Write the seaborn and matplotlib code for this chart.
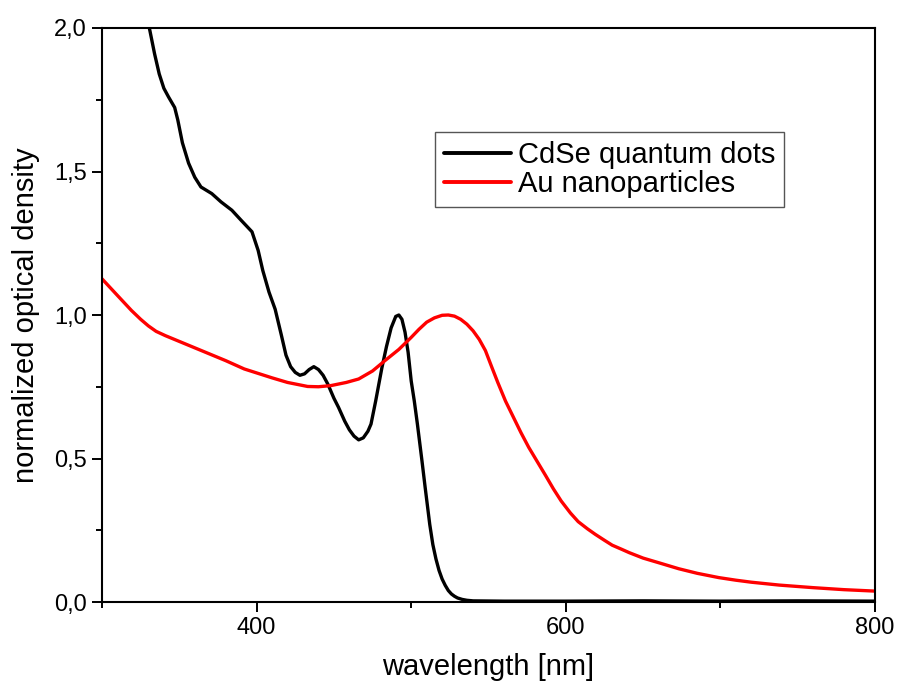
import numpy as np
import pandas as pd
import matplotlib
matplotlib.use("Agg")
import matplotlib.pyplot as plt
from matplotlib.ticker import MultipleLocator, FuncFormatter
import seaborn as sns

# CdSe quantum dots absorption
cdse_wl = [320, 325, 331, 334, 337, 340, 343, 347, 349, 352, 356, 360, 364, 371, 377, 384, 390,
           397, 401, 404, 408, 412, 416, 419, 422, 425, 428, 431, 434, 437, 440, 443, 446,
           450, 453, 457, 460, 463, 466, 469, 472, 474, 477, 481, 484, 487, 490, 492, 494,
           496, 498, 500, 502, 504, 507, 509, 512, 514, 516, 518, 520, 522, 524, 526, 528,
           530, 533, 536, 540, 560, 600, 650, 700, 750, 800]
cdse_od = [2.30, 2.14, 1.99, 1.91, 1.84, 1.79, 1.76, 1.723, 1.68, 1.60, 1.529, 1.48, 1.446, 1.423, 1.394, 1.365, 1.33,
           1.29, 1.225, 1.155, 1.08, 1.02, 0.93, 0.86, 0.82, 0.80, 0.79, 0.795, 0.81, 0.82, 0.81, 0.79, 0.76,
           0.71, 0.678, 0.63, 0.60, 0.578, 0.565, 0.572, 0.595, 0.62, 0.70, 0.815, 0.89, 0.955, 0.995, 1.0, 0.985,
           0.94, 0.87, 0.77, 0.70, 0.62, 0.49, 0.40, 0.27, 0.20, 0.15, 0.11, 0.08, 0.058, 0.04, 0.028, 0.02,
           0.014, 0.009, 0.006, 0.004, 0.003, 0.003, 0.004, 0.003, 0.004, 0.003]

# Au nanoparticles plasmon band
au_wl = [300, 310, 319, 325, 330, 335, 341, 354, 367, 380, 392, 410, 420, 433, 440, 448, 458,
         466, 475, 483, 492, 500, 505, 510, 515, 520, 524, 528, 532, 536, 540, 544,
         548, 552, 556, 561, 566, 571, 576, 582, 587, 592, 597, 603, 608, 614, 619,
         625, 630, 636, 641, 650, 660, 673, 685, 699, 710, 720, 738, 760, 780, 800]
au_od = [1.126, 1.068, 1.016, 0.985, 0.962, 0.943, 0.928, 0.899, 0.870, 0.841, 0.812, 0.781, 0.765, 0.751, 0.75, 0.754, 0.765,
         0.777, 0.805, 0.841, 0.88, 0.922, 0.95, 0.975, 0.99, 0.999, 1.0, 0.996, 0.985, 0.968, 0.945, 0.915,
         0.876, 0.82, 0.765, 0.70, 0.645, 0.59, 0.539, 0.485, 0.44, 0.394, 0.352, 0.31, 0.28, 0.255, 0.236,
         0.215, 0.198, 0.184, 0.172, 0.153, 0.137, 0.116, 0.10, 0.085, 0.076, 0.069, 0.059, 0.05, 0.043, 0.038]

df_cdse = pd.DataFrame({"wl": cdse_wl, "od": cdse_od})
df_au = pd.DataFrame({"wl": au_wl, "od": au_od})

sns.set_style("ticks", {"text.color": "black", "axes.labelcolor": "black",
                        "xtick.color": "black", "ytick.color": "black"})
plt.rcParams["font.family"] = ["Liberation Sans", "DejaVu Sans"]

fig = plt.figure(figsize=(8.98, 6.93), dpi=100)
ax = fig.add_axes([0.1136, 0.1313, 0.8608, 0.8283])

sns.lineplot(data=df_cdse, x="wl", y="od", ax=ax, color="black", lw=2.4,
             label="CdSe quantum dots", sort=False)
sns.lineplot(data=df_au, x="wl", y="od", ax=ax, color="#ff0000", lw=2.4,
             label="Au nanoparticles", sort=False)

ax.set_xlim(300, 800)
ax.set_ylim(0, 2.0)
ax.xaxis.set_major_locator(MultipleLocator(200))
ax.xaxis.set_minor_locator(MultipleLocator(100))
ax.yaxis.set_major_locator(MultipleLocator(0.5))
ax.yaxis.set_minor_locator(MultipleLocator(0.25))
ax.yaxis.set_major_formatter(FuncFormatter(lambda v, p: f"{v:.1f}".replace(".", ",")))

for s in ax.spines.values():
    s.set_visible(True)
    s.set_linewidth(1.5)
    s.set_color("black")
ax.tick_params(which="major", direction="out", length=7, width=1.4, labelsize=17, pad=4)
ax.tick_params(which="minor", direction="out", length=4.3, width=1.4)

ax.set_xlabel("wavelength [nm]", fontsize=21, labelpad=10)
ax.set_ylabel("normalized optical density", fontsize=21, labelpad=10)

leg = ax.legend(loc="upper left", bbox_to_anchor=(0.431, 0.8185), borderaxespad=0,
                fontsize=21, frameon=True, fancybox=False, framealpha=1,
                edgecolor="#555555", handlelength=2.3, handletextpad=0.25,
                labelspacing=0.05, borderpad=0.3)
leg.get_frame().set_linewidth(1.0)
for line in leg.get_lines():
    line.set_linewidth(2.8)

fig.savefig("out.png", dpi=100)
